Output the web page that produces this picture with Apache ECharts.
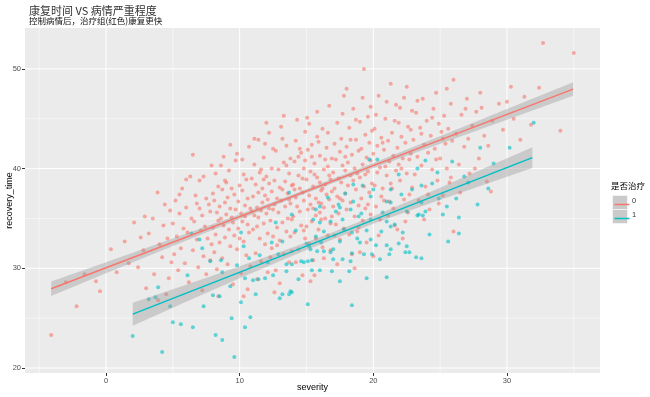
<!DOCTYPE html>
<html>
<head>
<meta charset="utf-8">
<script src="https://cdn.jsdelivr.net/npm/echarts@6/dist/echarts.min.js"></script>
<style>
  html, body { margin: 0; padding: 0; background: #fff; }
  #chart { width: 650px; height: 397px; }
</style>
</head>
<body>
<div id="chart"></div>
<script>
/* 康复时间 vs 病情严重程度 散点 + 回归线 */

// 坐标轴范围与刻度
var xRange = [-6.06, 36.96];
var yRange = [19.5, 54.1];
var xTicks = [0, 10, 20, 30];
var yTicks = [20, 30, 40, 50];
var xMinor = [-5, 5, 15, 25, 35];
var yMinor = [25, 35, 45];

// 治疗组 0（红）
var redPts = [
  [-4.1,23.3],[-2.2,26.2],[-0.45,27.7],[-0.75,28.7],[0.37,31.9],[1.4,32.7],[-1.6,29.4],[0.8,29.6],[1.7,30.5],[-3.0,28.6],
  [2.1,34.6],[2.4,30.1],[2.8,31.8],[3.0,28.0],[3.2,33.5],[3.5,35.0],[3.6,29.4],[3.86,37.6],[4.0,32.4],[4.2,31.1],
  [4.3,34.3],[4.5,27.4],[4.6,33.0],[4.8,35.8],[4.9,30.6],[2.6,33.1],[3.9,26.8],[4.4,36.4],[2.9,35.2],[4.7,29.0],
  [5.0,34.5],[5.1,31.4],[5.2,36.8],[5.3,33.2],[5.4,29.8],[5.5,35.5],[5.6,32.0],[5.7,38.0],[5.8,34.0],[5.9,30.5],
  [6.0,36.1],[6.1,33.6],[6.2,28.6],[6.3,39.2],[6.4,35.0],[6.5,41.4],[6.5,31.8],[6.6,34.7],[6.7,37.3],[6.8,32.9],
  [6.9,30.1],[7.0,36.0],[7.0,38.8],[7.1,33.8],[7.2,35.3],[7.3,39.2],[7.3,31.2],[7.4,34.2],[7.5,37.0],[7.5,29.4],
  [7.6,33.0],[7.7,36.4],[7.8,35.7],[7.9,40.3],[7.9,32.4],[7.2,27.8],[6.0,38.9],[5.5,37.4],[7.8,30.8],[6.8,36.5],
  [8.0,34.1],[8.0,37.5],[8.1,31.6],[8.1,36.8],[8.2,39.5],[8.2,33.4],[8.3,35.6],[8.3,29.9],[8.4,38.2],[8.4,34.8],
  [8.5,36.2],[8.5,32.6],[8.6,40.3],[8.6,35.0],[8.7,37.9],[8.7,31.0],[8.8,41.2],[8.8,34.3],[8.9,36.6],[8.9,33.1],
  [9.0,38.6],[9.0,35.4],[9.1,30.4],[9.1,37.1],[9.2,33.9],[9.2,39.8],[9.3,36.0],[9.3,32.2],[9.4,35.1],[9.4,38.0],
  [9.5,34.6],[9.5,28.4],[9.6,37.4],[9.6,33.3],[9.7,40.8],[9.7,35.9],[9.8,41.5],[9.8,31.9],[9.9,36.7],[9.9,34.0],
  [10.0,38.3],[10.0,33.0],[10.1,35.5],[10.1,29.5],[10.2,37.8],[10.2,34.7],[10.3,39.4],[10.3,32.7],[10.4,36.3],[10.4,35.2],
  [10.5,38.9],[10.5,31.3],[10.6,34.4],[10.6,37.0],[10.7,42.2],[10.7,33.6],[10.8,36.0],[10.8,30.2],[10.9,39.0],[10.9,35.7],
  [8.4,27.2],[9.3,42.4],[10.2,40.9],[8.9,38.8],[10.6,27.9],[10.3,27.2],
  [11.0,37.2],[11.0,33.9],[11.1,40.4],[11.1,35.3],[11.2,31.5],[11.2,38.4],[11.3,36.1],[11.3,34.2],[11.4,42.9],[11.4,37.6],
  [11.5,33.0],[11.5,39.6],[11.6,35.8],[11.6,30.7],[11.7,38.0],[11.7,36.6],[11.8,34.5],[11.8,41.1],[11.9,37.3],[11.9,32.4],
  [12.0,39.2],[12.0,35.5],[12.1,36.9],[12.1,33.5],[12.2,43.6],[12.2,38.5],[12.3,34.8],[12.3,31.1],[12.4,37.7],[12.4,40.0],
  [12.5,35.9],[12.5,33.2],[12.6,38.8],[12.6,36.4],[12.7,29.8],[12.7,41.8],[12.8,37.0],[12.8,34.1],[12.9,39.9],[12.9,35.6],
  [13.0,32.8],[13.0,38.1],[13.1,36.8],[13.1,44.2],[13.2,34.6],[13.2,37.9],[13.3,31.4],[13.3,40.6],[13.4,36.2],[13.4,38.7],
  [13.5,33.7],[13.5,42.3],[13.6,37.5],[13.6,35.0],[13.7,39.5],[13.7,30.6],[13.8,36.5],[13.8,41.0],[13.9,34.9],[13.9,38.3],
  [11.3,28.9],[12.0,44.6],[12.6,27.6],[13.3,45.3],[11.9,42.5],[12.4,32.0],[13.0,28.5],[11.6,39.9],[13.8,33.2],[12.2,36.0],
  [11.1,43.0],[13.5,40.3],[12.8,32.3],[11.4,35.1],[13.2,43.0],[12.1,29.6],[13.7,36.9],[11.8,38.9],[12.5,42.0],[13.9,31.7],
  [14.0,38.4],[14.0,35.2],[14.1,40.7],[14.1,33.6],[14.2,37.1],[14.2,42.8],[14.3,44.9],[14.3,36.2],[14.4,39.3],[14.4,31.9],
  [14.5,38.0],[14.5,35.7],[14.6,41.6],[14.6,34.3],[14.7,37.6],[14.7,29.3],[14.8,40.0],[14.8,36.8],[14.9,33.0],[14.9,43.7],
  [15.05,45.1],[15.0,38.9],[15.1,35.9],[15.1,41.9],[15.2,37.3],[15.2,32.5],[15.3,39.7],[15.3,36.4],[15.4,34.7],[15.4,42.4],
  [15.5,38.2],[15.5,30.8],[15.6,40.5],[15.6,29.3],[15.7,37.0],[15.7,35.3],[15.8,43.2],[15.8,39.1],[15.9,33.9],[15.9,36.6],
  [16.0,41.3],[16.0,38.6],[16.1,34.9],[16.1,37.8],[16.2,44.0],[16.2,32.1],[16.3,39.9],[16.3,36.1],[16.4,38.4],[16.4,35.0],
  [16.5,42.1],[16.5,37.4],[16.6,33.3],[16.6,40.2],[16.7,36.9],[16.7,46.3],[16.8,38.9],[16.8,34.5],[16.9,41.0],[16.9,37.7],
  [14.2,30.6],[14.9,40.8],[15.3,28.7],[15.8,45.7],[16.3,31.0],[16.6,43.6],[14.5,42.0],[15.0,34.2],[15.6,39.4],[16.1,36.5],
  [16.8,31.8],[14.7,39.0],[15.4,41.2],[16.0,35.6],[16.4,40.9],[14.1,37.9],[15.2,44.5],[16.7,39.3],[15.9,42.7],[14.8,33.8],
  [16.2,38.0],[15.5,36.0],[14.4,41.2],[16.9,35.2],[15.7,33.0],
  [17.0,39.6],[17.0,36.2],[17.1,42.5],[17.1,38.0],[17.2,34.4],[17.2,40.9],[17.3,37.2],[17.3,44.6],[17.4,39.0],[17.4,35.5],
  [17.5,41.7],[17.5,32.9],[17.6,38.6],[17.6,43.0],[17.7,36.8],[17.7,40.3],[17.8,34.0],[17.8,47.3],[17.9,39.8],[17.9,37.5],
  [18.0,42.2],[18.0,35.9],[18.1,40.6],[18.1,38.3],[18.2,33.4],[18.2,44.1],[18.3,39.3],[18.3,36.6],[18.4,41.4],[18.4,31.4],
  [18.5,38.8],[18.5,46.0],[18.6,40.0],[18.6,35.2],[18.7,42.9],[18.7,37.9],[18.8,39.5],[18.8,33.7],[18.9,41.8],[18.9,36.3],
  [19.0,44.7],[19.0,39.1],[19.1,37.0],[19.1,42.0],[19.2,34.8],[19.2,40.4],[19.3,50.0],[19.3,38.2],[19.4,43.4],[19.4,36.0],
  [19.5,41.1],[19.5,32.6],[19.6,39.7],[19.6,45.2],[19.7,37.6],[19.7,42.6],[19.8,35.4],[19.8,40.8],[19.9,38.5],[19.9,43.8],
  [17.3,30.4],[18.0,48.0],[18.6,30.0],[19.2,47.1],[17.7,45.5],[18.9,34.1],[19.6,36.4],[17.5,37.0],[18.3,42.9],[19.0,31.6],
  [17.9,41.2],[18.7,44.9],[19.4,39.4],[17.1,33.3],[19.8,46.2],
  [20.0,31.2],[20.0,41.5],[20.1,38.3],[20.1,44.0],[20.2,36.2],[20.3,42.3],[20.3,39.6],[20.4,47.3],[20.5,40.1],[20.5,34.9],
  [20.6,43.1],[20.7,38.0],[20.8,41.9],[20.8,36.8],[20.9,45.0],[21.0,39.3],[21.1,42.8],[21.1,35.3],[21.2,40.7],[21.3,48.5],
  [21.3,38.5],[21.4,43.6],[21.5,41.3],[21.5,36.0],[21.6,44.8],[21.7,39.8],[21.8,42.1],[21.8,33.9],[21.9,40.4],[22.0,46.1],
  [22.0,38.8],[22.1,43.2],[22.2,41.0],[22.3,47.1],[22.3,36.9],[22.4,42.6],[22.5,39.5],[22.6,44.2],[22.6,35.6],[22.7,40.9],
  [22.8,43.9],[22.9,38.1],[22.9,45.8],[20.6,37.2],[21.0,46.7],[21.6,34.3],[22.1,40.0],[22.7,37.4],[20.2,45.4],[20.9,40.2],
  [21.4,38.0],[22.4,34.7],[20.7,42.6],[21.9,44.6],[22.8,41.5],[20.4,33.3],[21.2,36.7],[22.5,48.2],[21.7,46.4],[22.2,33.0],
  [23.0,42.9],[23.1,39.4],[23.2,45.6],[23.3,41.2],[23.4,36.8],[23.5,44.1],[23.6,40.3],[23.7,47.0],[23.8,42.4],[23.9,38.2],
  [24.0,44.8],[24.1,41.6],[24.2,35.9],[24.3,43.3],[24.4,39.9],[24.5,46.0],[24.6,42.0],[24.7,47.6],[24.8,38.8],[24.9,44.5],
  [25.0,41.0],[25.1,43.7],[25.2,37.3],[25.3,45.3],[25.4,42.5],[25.5,40.0],[25.6,44.0],[25.7,38.6],[25.8,46.5],[25.9,42.8],
  [23.3,46.8],[23.8,34.9],[24.4,45.1],[24.9,36.5],[25.5,48.0],[23.6,43.5],[24.1,37.4],[24.7,40.9],[25.2,43.0],[25.8,39.1],
  [26.0,48.9],[26.0,33.7],[26.2,43.5],[26.4,40.4],[26.6,45.4],[26.8,42.2],[27.0,47.0],[27.2,39.5],[27.4,44.3],[27.7,45.7],
  [27.9,41.0],[28.1,46.1],[28.3,43.3],[28.5,38.7],[28.8,37.7],[28.9,44.8],[26.5,37.6],[27.1,43.0],[27.6,40.0],[28.0,47.6],
  [26.9,46.0],[28.6,42.3],
  [29.4,46.5],[30.0,46.7],[29.7,43.9],[30.5,45.0],[31.0,42.9],[31.3,47.2],[31.8,44.4],[32.4,48.1],[32.7,52.6],[34.0,43.8],
  [35.0,51.6],[30.3,48.2]
];

// 治疗组 1（蓝）
var bluePts = [
  [2.0,23.2],[3.2,26.9],[3.7,27.1],[3.9,28.1],[4.2,21.6],[5.0,24.6],[5.6,24.4],[6.4,33.5],[6.5,24.1],[7.0,32.9],
  [7.2,32.0],[7.3,26.2],[7.8,30.7],[8.0,27.3],[8.2,23.3],[8.5,27.2],[8.6,30.8],[8.7,22.8],[8.7,29.6],[9.4,25.0],
  [9.6,21.1],[9.8,30.3],[10.1,33.6],[10.1,26.6],[10.3,32.2],[10.4,24.1],[10.4,29.0],[10.8,25.1],[11.0,28.8],[11.2,27.4],
  [11.4,28.9],[11.9,29.0],[12.4,32.6],[12.5,29.3],[12.7,34.6],[13.0,27.0],[13.2,32.7],[13.2,27.4],[13.5,30.4],[13.5,29.7],
  [13.7,27.4],[13.7,37.6],[13.8,27.7],[13.9,30.4],[13.9,35.4],[13.9,27.6],[14.6,30.7],[14.8,30.6],[15.0,32.5],[15.1,26.4],
  [15.1,30.7],[15.2,32.2],[15.3,31.9],[15.4,30.8],[15.4,29.8],[15.5,34.9],[15.7,33.2],[15.7,35.9],[15.8,31.7],[16.0,29.8],
  [16.0,34.6],[16.0,36.2],[16.3,31.7],[16.3,33.7],[16.8,31.6],[16.8,34.7],[16.9,29.7],[17.0,30.9],[17.0,31.9],[17.2,35.7],
  [17.4,36.4],[17.5,28.7],[17.5,32.7],[17.5,36.1],[17.7,30.9],[17.7,34.9],[17.8,33.9],[18.2,29.7],[18.3,30.7],[18.3,35.9],
  [18.4,26.3],[18.4,31.5],[18.4,33.6],[18.5,36.7],[18.5,38.4],[18.8,33.0],[19.0,32.6],[19.2,38.3],[19.3,31.4],[19.5,29.0],
  [19.5,33.8],[19.7,40.9],[19.8,32.9],[19.8,34.9],[19.8,37.2],[19.9,31.4],[20.0,37.9],[20.2,32.3],[20.3,40.9],[20.5,30.9],
  [20.6,33.7],[21.0,29.1],[21.0,32.3],[21.0,34.7],[21.0,36.7],[21.2,31.4],[21.3,31.9],[21.3,34.2],[21.3,36.6],[21.3,37.9],
  [21.6,34.4],[21.9,32.5],[21.9,39.4],[22.1,37.4],[22.2,33.6],[22.4,31.6],[22.5,32.2],[22.5,35.7],[22.7,31.6],[23.2,31.1],
  [23.3,35.3],[23.3,40.0],[23.4,35.4],[23.6,31.0],[23.6,36.6],[23.6,38.3],[23.7,35.3],[23.9,35.7],[23.9,40.8],[24.2,33.4],
  [24.8,39.6],[24.9,37.0],[25.2,35.4],[25.5,36.2],[25.6,32.7],[25.9,40.7],[26.2,37.0],[26.4,33.5],[26.4,35.1],[27.1,38.6],
  [28.0,42.1],[29.0,40.5],[30.2,42.1],[32.0,44.6],
  [11.5,31.3],[12.1,30.6],[14.2,33.8],[16.6,37.1],[17.9,37.5],[19.1,35.5],[20.7,35.6],[22.9,37.9],[24.4,38.5],[26.8,39.2],
  [9.3,28.2],[6.1,29.3],[4.8,26.2],[27.8,36.4],[28.6,38.0],[12.9,31.4],[14.4,28.9],[10.7,31.0],[18.9,35.2],[16.1,32.6]
];

// 回归线端点
var redLine = [[-4.1, 27.95], [34.95, 47.97]];
var blueLine = [[2.0, 25.4], [31.9, 41.1]];

// 置信带（读图：x、下界、上界）
var redBandX  = [-4.1, 0, 5, 10, 14, 18, 22, 26, 30, 34.95];
var redBandLo = [27.23, 29.50, 32.24, 34.93, 37.03, 39.06, 41.04, 42.98, 44.91, 47.30];
var redBandHi = [28.67, 30.60, 33.00, 35.43, 37.43, 39.50, 41.64, 43.80, 45.97, 48.66];
var blueBandX  = [2.0, 6, 10, 14, 17, 20, 24, 28, 31.9];
var blueBandLo = [24.25, 26.65, 29.00, 31.28, 32.92, 34.47, 36.40, 38.25, 40.05];
var blueBandHi = [26.55, 28.35, 30.20, 32.12, 33.64, 35.23, 37.50, 39.85, 42.15];

var RED = '#F8766D';
var BLUE = '#00BFC4';

var dom = document.getElementById('chart');
var myChart = echarts.init(dom, null, { renderer: 'canvas' });

// 网格线：用 custom 系列画，保证位置在整数刻度上
function gridLines(values, dir, width) {
    return {
        type: 'custom',
        silent: true,
        z: 1,
        clip: true,
        data: values.map(function (v) { return [v]; }),
        renderItem: function (params, api) {
            var v = api.value(0);
            var p1, p2;
            if (dir === 'x') {
                p1 = api.coord([v, yRange[0]]);
                p2 = api.coord([v, yRange[1]]);
            } else {
                p1 = api.coord([xRange[0], v]);
                p2 = api.coord([xRange[1], v]);
            }
            return {
                type: 'line',
                shape: { x1: p1[0], y1: p1[1], x2: p2[0], y2: p2[1] },
                style: { stroke: '#ffffff', lineWidth: width }
            };
        }
    };
}

// 置信带多边形
function band(xs, lo, hi) {
    return {
        type: 'custom',
        silent: true,
        z: 4,
        clip: true,
        data: [[xs[0], lo[0]]],
        renderItem: function (params, api) {
            var pts = [];
            for (var i = 0; i < xs.length; i++) pts.push(api.coord([xs[i], hi[i]]));
            for (var j = xs.length - 1; j >= 0; j--) pts.push(api.coord([xs[j], lo[j]]));
            return {
                type: 'polygon',
                shape: { points: pts },
                style: { fill: 'rgba(153,153,153,0.4)' }
            };
        }
    };
}

var option = {
    animation: false,
    backgroundColor: '#ffffff',
    title: {
        left: 24,
        top: 0,
        itemGap: 1,
        text: '康复时间 VS 病情严重程度',
        textStyle: { fontSize: 11, fontWeight: 'normal', color: '#333', fontFamily: 'Noto Sans CJK SC' },
        subtext: '控制病情后，治疗组(红色)康复更快',
        subtextStyle: { fontSize: 8.5, color: '#111', fontFamily: 'Noto Sans CJK SC' }
    },
    grid: {
        left: 25, right: 50, top: 28, bottom: 24,
        outerBoundsMode: 'none',
        containLabel: false,
        show: true, backgroundColor: '#EBEBEB', borderWidth: 0
    },
    xAxis: {
        type: 'value',
        min: xRange[0], max: xRange[1],
        name: 'severity',
        nameLocation: 'middle',
        nameGap: 10,
        nameMoveOverlap: false,
        nameTextStyle: { fontSize: 9, color: '#000', fontFamily: 'Liberation Sans' },
        axisLine: { show: false, onZero: false },
        splitLine: { show: false },
        axisTick: { show: true, length: 3, customValues: xTicks, lineStyle: { color: '#333' } },
        axisLabel: { customValues: xTicks, fontSize: 7.5, color: '#4D4D4D', margin: 4, fontFamily: 'Liberation Sans' }
    },
    yAxis: {
        type: 'value',
        min: yRange[0], max: yRange[1],
        name: 'recovery_time',
        nameLocation: 'middle',
        nameRotate: 90,
        nameGap: 11,
        nameMoveOverlap: false,
        nameTextStyle: { fontSize: 9, color: '#000', fontFamily: 'Liberation Sans' },
        axisLine: { show: false, onZero: false },
        splitLine: { show: false },
        axisTick: { show: true, length: 3, customValues: yTicks, lineStyle: { color: '#333' } },
        axisLabel: { customValues: yTicks, fontSize: 7.5, color: '#4D4D4D', margin: 4, fontFamily: 'Liberation Sans' }
    },
    series: [
        gridLines(xMinor, 'x', 0.5),
        gridLines(yMinor, 'y', 0.5),
        gridLines(xTicks, 'x', 1),
        gridLines(yTicks, 'y', 1),
        {
            name: '0', type: 'scatter', z: 3,
            symbolSize: 4,
            itemStyle: { color: RED, opacity: 0.6 },
            data: redPts
        },
        {
            name: '1', type: 'scatter', z: 3,
            symbolSize: 4,
            itemStyle: { color: BLUE, opacity: 0.6 },
            data: bluePts
        },
        band(redBandX, redBandLo, redBandHi),
        band(blueBandX, blueBandLo, blueBandHi),
        {
            type: 'line', z: 5, symbol: 'none', silent: true,
            lineStyle: { color: RED, width: 1.5 },
            data: redLine
        },
        {
            type: 'line', z: 5, symbol: 'none', silent: true,
            lineStyle: { color: BLUE, width: 1.5 },
            data: blueLine
        }
    ],
    // 图例（仿 ggplot 样式）
    graphic: [
        { type: 'text', left: 611, top: 182, style: { text: '是否治疗', fontSize: 8.5, fill: '#000', fontFamily: 'Noto Sans CJK SC' } },
        { type: 'rect', left: 612, top: 195, shape: { width: 15, height: 14 }, style: { fill: '#CACACA', stroke: '#F2F2F2', lineWidth: 1 } },
        { type: 'line', left: 612, top: 202, shape: { x1: 0, y1: 0, x2: 15, y2: 0 }, style: { stroke: RED, lineWidth: 1.5 } },
        { type: 'rect', left: 612, top: 209, shape: { width: 15, height: 14 }, style: { fill: '#CACACA', stroke: '#F2F2F2', lineWidth: 1 } },
        { type: 'line', left: 612, top: 216, shape: { x1: 0, y1: 0, x2: 15, y2: 0 }, style: { stroke: BLUE, lineWidth: 1.5 } },
        { type: 'text', left: 632, top: 197, style: { text: '0', fontSize: 7.5, fill: '#333', fontFamily: 'Liberation Sans' } },
        { type: 'text', left: 632, top: 211, style: { text: '1', fontSize: 7.5, fill: '#333', fontFamily: 'Liberation Sans' } }
    ]
};

myChart.setOption(option);
</script>
</body>
</html>
